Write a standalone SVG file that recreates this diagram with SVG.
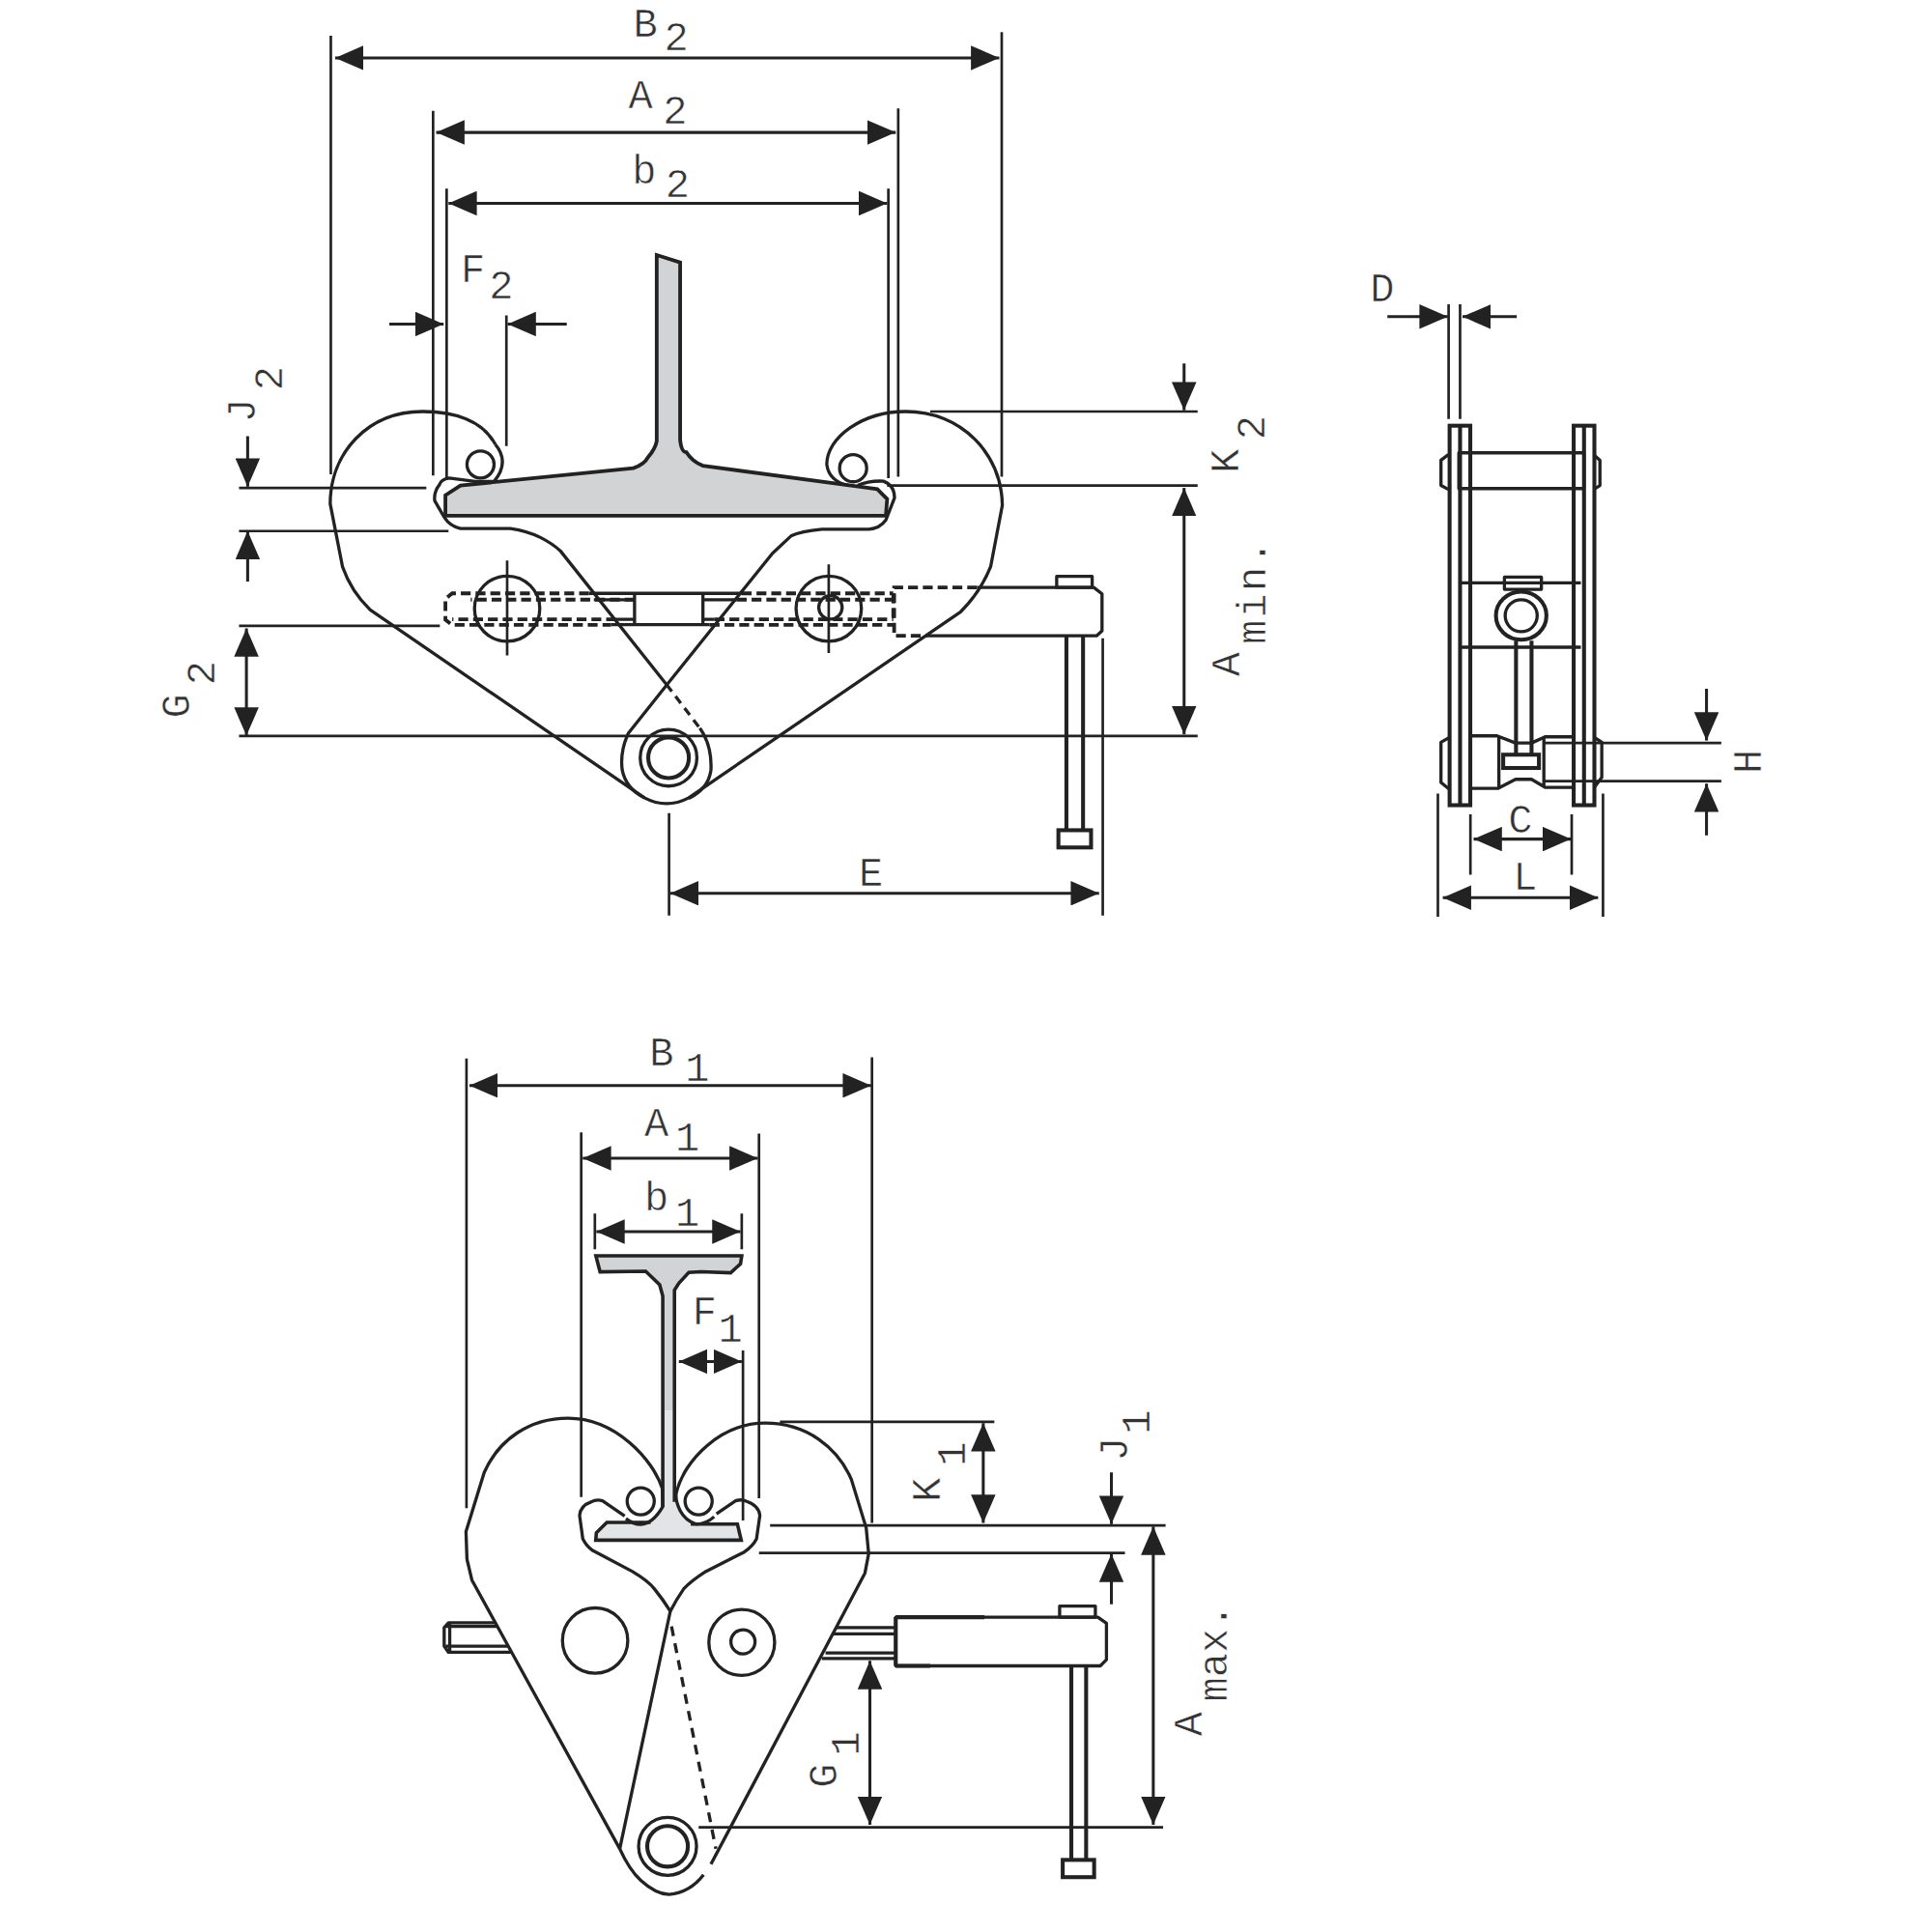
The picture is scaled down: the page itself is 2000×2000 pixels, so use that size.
<svg xmlns="http://www.w3.org/2000/svg" width="2000" height="2000" viewBox="0 0 2000 2000">
<style>
.b{fill:none;stroke:#222;stroke-width:2.6;stroke-linejoin:round}
.t{fill:none;stroke:#222;stroke-width:3.2}
.d{fill:none;stroke:#222;stroke-width:3;stroke-dasharray:8 4}
.e{stroke:#222;stroke-width:2.1;fill:none}
.a{stroke:#222;stroke-width:2.4;fill:none;marker-end:url(#h)}
.aa{stroke:#222;stroke-width:2.4;fill:none;marker-start:url(#h);marker-end:url(#h)}
text{font-family:"Liberation Mono","DejaVu Sans Mono",monospace;font-size:33px;fill:#333;stroke:#fff;stroke-width:.45px;paint-order:fill}
</style>
<defs>
<marker id="h" markerUnits="userSpaceOnUse" markerWidth="24" markerHeight="20" refX="23" refY="10" orient="auto-start-reverse"><path d="M0 0L23 10L0 20z" fill="#222"/></marker>
</defs>
<rect width="2000" height="2000" fill="#fff"/>
<g transform="scale(1.2755)">
<g id="beam-wide">
<path d="M533 207L552 213L552 357Q553 367 557 367Q562 375 570.5 378L698 395L712 397L720 405L719 418.5L361.5 418.5L361.5 402L373.7 394L514 380Q523 377 526 371Q532 364 533 358z" fill="#d1d3d5" stroke="#222" stroke-width="3"/>
</g>
<g id="clamp-open">
<path class="b" d="M402 360.6C392 342 370 334 343 334C298 334 268 368 268 409L278 460Q285 480 300.5 495L523 647.5Q541 657 559 647.5L779.7 496.5Q796 480 804 460L813.5 410C813 368 780 334 735 334C700 334 671 355 671 377Q673 391 689 394"/>
<path class="b" d="M402 360.6Q414 375 401 390.7L385.5 390.7L364.6 388Q358 389 356.7 393.3Q352 399 352.8 406.4L360.7 420Q365 427 373.7 429L414.2 429Q428 431 439 436.4Q448 441 454.7 447L541 555.6"/>
<path class="b" d="M541 555.6L568 591" stroke-dasharray="7 5"/>
<path class="b" d="M568 591Q578 605 577 625Q575 640 559 648"/>
<path class="b" d="M696 394Q705 390 717 390.5Q726 394 726 404L719 422Q714 429 705 429.5L667 429.5Q650 431 642 435L627 449L541 556L510 595Q503 610 505 625Q508 640 523 647.5"/>
<circle class="b" cx="390" cy="377" r="11"/>
<circle class="b" cx="692.4" cy="380" r="11"/>
<circle class="b" cx="411.6" cy="494" r="26.5"/>
<circle class="b" cx="672.6" cy="494" r="26.5"/>
<circle class="b" cx="674" cy="493" r="9.5"/>
<path class="e" d="M411.6 455V532M672.6 458V530"/>
<circle class="b" cx="542.6" cy="615" r="23"/>
<circle class="t" cx="542.6" cy="615" r="16.5"/>
<path class="b" d="M515 481.6H570.5V507H515zM478 481.6H515M482 486.7H515M500 502.7H515M496 507H515M570.5 481.6H602M570.5 486.7H598M570.5 502.7H580M570.5 507H576"/>
<path class="d" d="M478 481.6H367L361.5 486V503L367 507.2H496M515 486.7H382M500 502.7H367M602 481.6H725M598 486.7H725M580 502.7H725M576 507.2H725M725 481.6V507.2"/>
<path class="d" d="M793 476.8H725.7V516H752.7"/>
<path class="b" d="M793 476.8H887.7L894.4 482V512L890 516H752.7"/>
<rect class="b" x="857.6" y="467.8" width="28.8" height="9"/>
<path class="t" d="M865.5 516V673.8M879 516V673.8"/>
<rect class="t" x="859" y="673.8" width="26.5" height="14"/>
</g>
<g id="side-view">
<rect class="t" x="1176.5" y="345.5" width="16.8" height="308"/>
<rect class="t" x="1277.2" y="345.5" width="16.8" height="308"/>
<path class="t" d="M1185 345.5V653.5M1285.6 345.5V653.5" stroke-width="2.6"/>
<path class="b" d="M1184 367.5H1285.5V396.5H1184zM1175.5 369L1169.5 373.5V394L1175.5 397.2M1293.5 369L1298.5 373.5V394L1293.5 397.2"/>
<path class="b" d="M1186 473H1283M1186 525.3H1283"/>
<rect class="b" x="1221" y="468.3" width="30" height="10"/>
<ellipse class="t" cx="1234.6" cy="499.7" rx="20.5" ry="19.5" stroke-width="2.6"/>
<circle class="b" cx="1234.6" cy="499.7" r="13"/>
<path class="t" d="M1230.4 520V612.5M1243 520V612.5" stroke-width="2.6"/>
<rect class="t" x="1220" y="612.5" width="29" height="10.8"/>
<path class="b" d="M1176.5 598.5L1169.5 602.4V635L1176.5 640.8M1193 597.2H1215L1230 603H1243L1254 598H1277M1193 639.8H1216L1230 632.5H1243L1254 639H1277M1216.5 597.2V639.8M1253 598V639M1294 598.5L1300 602.4V631L1294 639"/>
</g>
<g id="beam-narrow">
<path d="M483.6 1019.2H602L601 1025.7L593 1033L569 1032.2L559 1032.8L551 1041.4L547.4 1047V1145H537.9V1052L535.4 1042.7L524 1031.7L487 1032.2z" fill="#d1d3d5" stroke="none"/>
<path d="M537.9 1145H547.4V1219L560.6 1237H598.5L601.6 1250H483.5L484 1244L492.5 1235.6H528L537.9 1223z" fill="#e3e4e6" stroke="none"/>
<path d="M537.9 1223V1052L535.4 1042.7L524 1031.7L487 1032.2L483.6 1019.2H602L601 1025.7L593 1033L569 1032.2L559 1032.8L551 1041.4L547.4 1047V1219" fill="none" stroke="#222" stroke-width="2.8"/>
<path d="M560.6 1237H598.5L601.6 1250H483.5L484 1244L492.5 1235.6H528" fill="none" stroke="#222" stroke-width="2.8"/>
</g>
<g id="clamp-closed">
<path class="b" d="M508 1232.5Q514 1237 520 1237.3Q530 1236.5 537.8 1223L537.5 1208C530 1185 500 1151 461 1151C430 1151 405 1168 393 1195L378.2 1243L379 1265.5L383 1282.4L503 1500.5Q511 1518 520 1526Q532 1537 543 1537.6Q560 1536 571 1521.6"/>
<path class="b" d="M507 1230.4L489 1218Q484 1216.5 479.6 1219Q471 1222 470.4 1230L473 1249Q476 1255 481 1258.4L513 1275.3Q526 1283 531 1289.4Q538 1298 544 1307.7L503 1500.5"/>
<path class="b" d="M579.6 1231Q573 1237 565 1237Q556 1234 552 1226Q548 1218 548.8 1212C555 1185 585 1155 621 1155C655 1155 680 1175 691 1200.8L703 1240L705 1261L702 1276.7L577 1513"/>
<path class="b" d="M581.5 1228.7L597 1218Q602 1216.5 606 1218.5Q616 1222 616.7 1230L614 1249Q611 1255 604 1259.7L573 1275.3Q561 1283 555 1289.4Q549 1298 544 1307.7"/>
<circle class="b" cx="520" cy="1218.4" r="11"/>
<circle class="b" cx="567" cy="1218.4" r="11"/>
<path class="b" d="M545 1320L581 1500.5" stroke-dasharray="8 6"/>
<circle class="b" cx="483" cy="1331.5" r="26.5"/>
<circle class="b" cx="602" cy="1333" r="26.7"/>
<circle class="b" cx="603" cy="1332.5" r="9.8"/>
<circle class="b" cx="541.8" cy="1498.5" r="23.5"/>
<circle class="t" cx="541.8" cy="1498.5" r="16.5"/>
<path class="b" d="M402 1317H364L360.5 1321V1336L364 1341H415M362 1320H404M362 1336H412M365 1317V1341"/>
<path class="b" d="M678.7 1321H727M676 1326H727M670 1341.5H727M667 1346H727"/>
<path class="b" d="M727 1312.5H891L898 1317.5V1347L893 1352H727z"/>
<path class="t" d="M727 1312.5H799M727 1352H755M727 1312.5V1352"/>
<rect class="b" x="860" y="1303.5" width="29" height="9"/>
<path class="t" d="M869.5 1352V1509.5M881.5 1352V1509.5"/>
<rect class="t" x="862.5" y="1509.5" width="25.5" height="14"/>
</g>
<g id="connectors">
<path class="e" d="M268.5 29V385M813 26V387M351.5 90V386M729 88V387M362.5 153V388M721 153V388M411 256V362"/>
<path class="e" d="M194 396H346M194 431H364M194 508H357M194 597.3H972M755 334H972M720 394H972M543 660V743M895 518V743"/>
<path class="aa" d="M272 47H811"/>
<path class="aa" d="M354 107.500H727"/>
<path class="aa" d="M364 165H720"/>
<path class="a" d="M316 263H360"/>
<path class="a" d="M460 263H412"/>
<path class="a" d="M201 354V395"/>
<path class="a" d="M201 472V431"/>
<path class="aa" d="M200 510V597"/>
<path class="a" d="M961 295V333"/>
<path class="aa" d="M961 396V596"/>
<path class="aa" d="M544 725H892"/>
<path class="e" d="M1175.700 247V340M1185 247V340M1193.400 661V710M1275.600 661V710M1167 644V744M1301 644V744M1253 603H1397M1253 634H1397"/>
<path class="a" d="M1126 257H1175"/>
<path class="a" d="M1231 257H1187"/>
<path class="aa" d="M1196 681H1275"/>
<path class="aa" d="M1171 728.500H1297"/>
<path class="a" d="M1385 559V601"/>
<path class="a" d="M1385 678V636"/>
<path class="e" d="M378.600 859V1224M707.700 858V1236M471.700 919V1215M616 920V1216M482.800 985V1014M602 985V1014M603 1096V1234"/>
<path class="e" d="M633 1154H807M625 1238H946M616 1260.400H913M567 1483H944"/>
<path class="aa" d="M381 881H707"/>
<path class="aa" d="M473 940H615"/>
<path class="aa" d="M484 999.600H601"/>
<path class="aa" d="M551 1105H602"/>
<path class="aa" d="M798 1155V1236"/>
<path class="a" d="M902 1195V1237"/>
<path class="a" d="M902 1302V1261"/>
<path class="aa" d="M936 1239V1481"/>
<path class="aa" d="M706 1348V1481"/>
</g>
<g id="labels">
<text x="514" y="30">B<tspan x="539" y="41">2</tspan></text>
<text x="510" y="88">A<tspan x="538" y="100">2</tspan></text>
<text x="513" y="149">b<tspan x="540" y="160">2</tspan></text>
<text x="374" y="229">F<tspan x="397" y="242">2</tspan></text>
<text transform="translate(207,343) rotate(-90)">J<tspan x="26" y="22">2</tspan></text>
<text transform="translate(154,583) rotate(-90)">G<tspan x="27" y="20">2</tspan></text>
<text transform="translate(1005,384) rotate(-90)">K<tspan x="27" y="21">2</tspan></text>
<text transform="translate(1006,549) rotate(-90)">A<tspan x="26" y="21" letter-spacing="1.800">min.</tspan></text>
<text x="697" y="719">E</text>
<text x="1112" y="245">D</text>
<text x="1224" y="676">C</text>
<text x="1228" y="722">L</text>
<text transform="translate(1429,628) rotate(-90)">H</text>
<text x="527" y="865">B<tspan x="556" y="877">1</tspan></text>
<text x="523" y="922">A<tspan x="548" y="934">1</tspan></text>
<text x="523" y="982">b<tspan x="548" y="995">1</tspan></text>
<text x="562" y="1075">F<tspan x="583" y="1089">1</tspan></text>
<text transform="translate(763,1219) rotate(-90)">K<tspan x="29" y="20">1</tspan></text>
<text transform="translate(915,1186) rotate(-90)">J<tspan x="22" y="18">1</tspan></text>
<text transform="translate(679,1451) rotate(-90)">G<tspan x="26" y="18">1</tspan></text>
<text transform="translate(975,1409) rotate(-90)">A<tspan x="28" y="21">max.</tspan></text>
</g>
</g>
</svg>
